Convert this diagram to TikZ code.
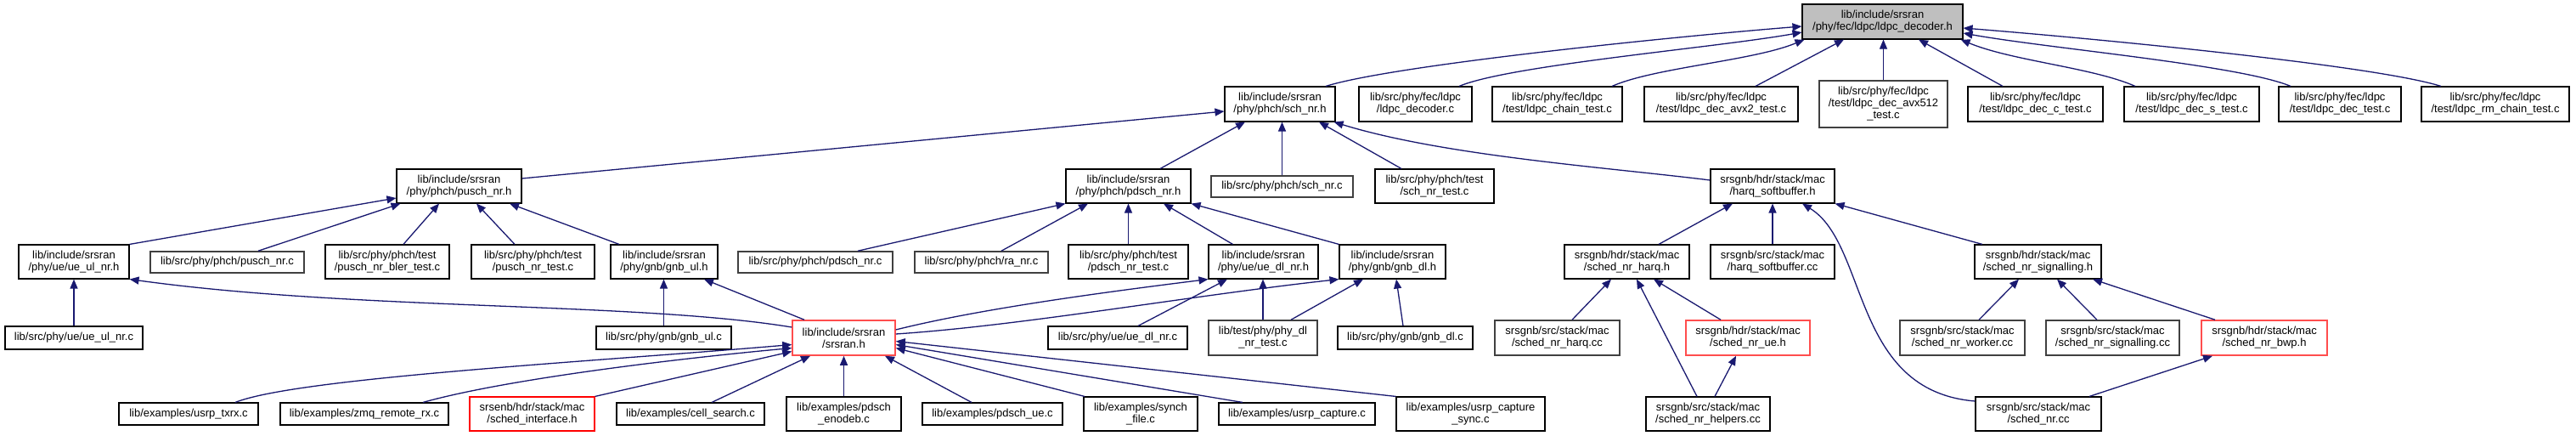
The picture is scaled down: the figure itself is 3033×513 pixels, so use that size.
\documentclass[tikz,border=0pt]{standalone}
\usepackage{fontspec}
\setmainfont{Liberation Sans}
\usetikzlibrary{arrows.meta}
\definecolor{edgeblue}{HTML}{191970}
\definecolor{boxgray}{HTML}{404040}
\definecolor{fillgray}{HTML}{BFBFBF}
\definecolor{boxred}{HTML}{FF4D4D}
\newcommand{\nodefont}{\fontsize{13}{14}\selectfont}
\begin{document}
\begin{tikzpicture}[x=1pt,y=-1pt,
  fbox/.style={draw=black, line width=1.1pt, fill=white, inner sep=0pt, align=center, font=\nodefont},
  gbox/.style={fbox, draw=boxgray, line width=1.5pt},
  rbox/.style={fbox, draw=boxred, line width=1.5pt},
  topbox/.style={fbox, fill=fillgray},
  dep/.style={draw=edgeblue, line width=1.3pt, -{Triangle[length=11pt,width=9pt]}},
]
\fill[white] (0,0) rectangle (3033,513);
\useasboundingbox (0,0) rectangle (3033,513);

% row 1
\node[topbox, minimum width=189pt, minimum height=41pt] (dec) at (2216.5,25.5) {lib/include/srsran\\/phy/fec/ldpc/ldpc\_decoder.h};
% row 2
\node[fbox, minimum width=130pt, minimum height=41pt] (schh) at (1507,122.5) {lib/include/srsran\\/phy/phch/sch\_nr.h};
\node[fbox, minimum width=133pt, minimum height=41pt] (ldc) at (1666.5,122.5) {lib/src/phy/fec/ldpc\\/ldpc\_decoder.c};
\node[fbox, minimum width=153pt, minimum height=41pt] (chain) at (1833.5,122.5) {lib/src/phy/fec/ldpc\\/test/ldpc\_chain\_test.c};
\node[fbox, minimum width=181pt, minimum height=41pt] (avx2) at (2026.5,122.5) {lib/src/phy/fec/ldpc\\/test/ldpc\_dec\_avx2\_test.c};
\node[gbox, minimum width=151pt, minimum height=55pt] (avx512) at (2217.5,122.5) {lib/src/phy/fec/ldpc\\/test/ldpc\_dec\_avx512\\\_test.c};
\node[fbox, minimum width=159pt, minimum height=41pt] (decc) at (2396.5,122.5) {lib/src/phy/fec/ldpc\\/test/ldpc\_dec\_c\_test.c};
\node[fbox, minimum width=159pt, minimum height=41pt] (decs) at (2580.5,122.5) {lib/src/phy/fec/ldpc\\/test/ldpc\_dec\_s\_test.c};
\node[fbox, minimum width=144pt, minimum height=41pt] (dect) at (2755,122.5) {lib/src/phy/fec/ldpc\\/test/ldpc\_dec\_test.c};
\node[fbox, minimum width=174pt, minimum height=41pt] (rm) at (2938,122.5) {lib/src/phy/fec/ldpc\\/test/ldpc\_rm\_chain\_test.c};
% row 3
\node[fbox, minimum width=147pt, minimum height=40pt] (pusch) at (540.5,219) {lib/include/srsran\\/phy/phch/pusch\_nr.h};
\node[fbox, minimum width=147pt, minimum height=40pt] (pdsch) at (1328.5,219) {lib/include/srsran\\/phy/phch/pdsch\_nr.h};
\node[gbox, minimum width=167pt, minimum height=25pt] (schc) at (1509.5,219.5) {lib/src/phy/phch/sch\_nr.c};
\node[fbox, minimum width=140pt, minimum height=40pt] (schtest) at (1689,219) {lib/src/phy/phch/test\\/sch\_nr\_test.c};
\node[fbox, minimum width=146pt, minimum height=40pt] (harqsb) at (2087,219) {srsgnb/hdr/stack/mac\\/harq\_softbuffer.h};
% row 4
\node[fbox, minimum width=130pt, minimum height=40pt] (ueul) at (87,308) {lib/include/srsran\\/phy/ue/ue\_ul\_nr.h};
\node[gbox, minimum width=181pt, minimum height=25pt] (puschc) at (267.5,308.5) {lib/src/phy/phch/pusch\_nr.c};
\node[fbox, minimum width=146pt, minimum height=40pt] (bler) at (456,308) {lib/src/phy/phch/test\\/pusch\_nr\_bler\_test.c};
\node[fbox, minimum width=145pt, minimum height=40pt] (puschtest) at (627.5,308) {lib/src/phy/phch/test\\/pusch\_nr\_test.c};
\node[fbox, minimum width=126pt, minimum height=40pt] (gnbul) at (782,308) {lib/include/srsran\\/phy/gnb/gnb\_ul.h};
\node[gbox, minimum width=182pt, minimum height=25pt] (pdschc) at (960,308.5) {lib/src/phy/phch/pdsch\_nr.c};
\node[gbox, minimum width=157pt, minimum height=25pt] (ranr) at (1155.5,308.5) {lib/src/phy/phch/ra\_nr.c};
\node[fbox, minimum width=141pt, minimum height=40pt] (pdschtest) at (1328.5,308) {lib/src/phy/phch/test\\/pdsch\_nr\_test.c};
\node[fbox, minimum width=129pt, minimum height=40pt] (uedl) at (1487.5,308) {lib/include/srsran\\/phy/ue/ue\_dl\_nr.h};
\node[fbox, minimum width=125pt, minimum height=40pt] (gnbdl) at (1639.5,308) {lib/include/srsran\\/phy/gnb/gnb\_dl.h};
\node[fbox, minimum width=147pt, minimum height=40pt] (harqh) at (1915.5,308) {srsgnb/hdr/stack/mac\\/sched\_nr\_harq.h};
\node[fbox, minimum width=146pt, minimum height=40pt] (harqcc) at (2087,308) {srsgnb/src/stack/mac\\/harq\_softbuffer.cc};
\node[fbox, minimum width=149pt, minimum height=40pt] (sigh) at (2399.5,308) {srsgnb/hdr/stack/mac\\/sched\_nr\_signalling.h};
% row 5
\node[fbox, minimum width=162pt, minimum height=27pt] (ueulc) at (87,397.5) {lib/src/phy/ue/ue\_ul\_nr.c};
\node[fbox, minimum width=159pt, minimum height=27pt] (gnbulc) at (781.5,397.5) {lib/src/phy/gnb/gnb\_ul.c};
\node[rbox, minimum width=121pt, minimum height=41pt] (srsran) at (993.5,397.5) {lib/include/srsran\\/srsran.h};
\node[fbox, minimum width=164pt, minimum height=27pt] (uedlc) at (1316,397.5) {lib/src/phy/ue/ue\_dl\_nr.c};
\node[gbox, minimum width=128pt, minimum height=41pt] (phydl) at (1487,397.5) {lib/test/phy/phy\_dl\\\_nr\_test.c};
\node[fbox, minimum width=159pt, minimum height=27pt] (gnbdlc) at (1654.5,397.5) {lib/src/phy/gnb/gnb\_dl.c};
\node[gbox, minimum width=147pt, minimum height=41pt] (harqhcc) at (1833.5,397.5) {srsgnb/src/stack/mac\\/sched\_nr\_harq.cc};
\node[rbox, minimum width=146pt, minimum height=41pt] (nrue) at (2058,397.5) {srsgnb/hdr/stack/mac\\/sched\_nr\_ue.h};
\node[gbox, minimum width=147pt, minimum height=41pt] (worker) at (2310.5,397.5) {srsgnb/src/stack/mac\\/sched\_nr\_worker.cc};
\node[gbox, minimum width=157pt, minimum height=41pt] (sigcc) at (2487.5,397.5) {srsgnb/src/stack/mac\\/sched\_nr\_signalling.cc};
\node[rbox, minimum width=148pt, minimum height=41pt] (bwp) at (2666,397.5) {srsgnb/hdr/stack/mac\\/sched\_nr\_bwp.h};
% row 6
\node[fbox, minimum width=164pt, minimum height=26pt] (txrx) at (222,487) {lib/examples/usrp\_txrx.c};
\node[fbox, minimum width=198pt, minimum height=26pt] (zmq) at (429,487) {lib/examples/zmq\_remote\_rx.c};
\node[rbox, draw=red, line width=1.1pt, minimum width=147pt, minimum height=40pt] (schedif) at (626.5,487) {srsenb/hdr/stack/mac\\/sched\_interface.h};
\node[fbox, minimum width=174pt, minimum height=26pt] (cell) at (813,487) {lib/examples/cell\_search.c};
\node[fbox, minimum width=135pt, minimum height=40pt] (enodeb) at (993.5,487) {lib/examples/pdsch\\\_enodeb.c};
\node[fbox, minimum width=165pt, minimum height=26pt] (pdschue) at (1168.5,487) {lib/examples/pdsch\_ue.c};
\node[fbox, minimum width=134pt, minimum height=40pt] (synch) at (1343,487) {lib/examples/synch\\\_file.c};
\node[fbox, minimum width=184pt, minimum height=26pt] (usrpcap) at (1527,487) {lib/examples/usrp\_capture.c};
\node[fbox, minimum width=175pt, minimum height=40pt] (capsync) at (1731.5,487) {lib/examples/usrp\_capture\\\_sync.c};
\node[fbox, minimum width=146pt, minimum height=40pt] (helpers) at (2011,487) {srsgnb/src/stack/mac\\/sched\_nr\_helpers.cc};
\node[fbox, minimum width=148pt, minimum height=40pt] (schednr) at (2400,487) {srsgnb/src/stack/mac\\/sched\_nr.cc};

% edges to ldpc_decoder.h
\draw[dep] ([xshift=54pt]schh.north) .. controls +(80,-25) and +(-150,12) .. ([yshift=-5.5pt]dec.west);
\draw[dep] ([xshift=51.5pt]ldc.north) .. controls +(60,-25) and +(-100,18) .. ([yshift=-12.5pt]dec.west);
\draw[dep] ([xshift=64.5pt]chain.north) .. controls +(50,-22) and +(-60,25) .. ([xshift=3pt]dec.south west);
\draw[dep] ([xshift=40.5pt]avx2.north) -- ([xshift=-45.5pt]dec.south);
\draw[dep, line width=0.8pt] (avx512.north) -- (avx512.north |- dec.south);
\draw[dep] ([xshift=-38.5pt]decc.north) -- ([xshift=42.5pt]dec.south);
\draw[dep] ([xshift=-66.5pt]decs.north) .. controls +(-50,-22) and +(60,25) .. ([xshift=-3pt]dec.south east);
\draw[dep] ([xshift=-58pt]dect.north) .. controls +(-60,-25) and +(100,18) .. ([yshift=-13.5pt]dec.east);
\draw[dep] ([xshift=-64pt]rm.north) .. controls +(-80,-25) and +(150,12) .. ([yshift=-7.5pt]dec.east);
% edges to sch_nr.h
\draw[dep] ([yshift=9pt]pusch.east) -- ([yshift=-8.5pt]schh.west);
\draw[dep] ([xshift=37.5pt]pdsch.north) -- ([xshift=-41pt]schh.south);
\draw[dep] (schc.north) -- (schc.north |- schh.south);
\draw[dep] ([xshift=-39pt]schtest.north) -- ([xshift=46pt]schh.south);
\draw[dep] ([yshift=7pt]harqsb.west) .. controls +(-120,-15) and +(130,40) .. ([xshift=-2pt]schh.south east);
% edges to pusch_nr.h
\draw[dep] (ueul.north east) -- ([yshift=-14pt]pusch.west);
\draw[dep] ([xshift=36.5pt]puschc.north) -- ([xshift=5pt]pusch.south west);
\draw[dep] ([xshift=19pt]bler.north) -- ([xshift=-23.5pt]pusch.south);
\draw[dep] ([xshift=-21.5pt]puschtest.north) -- ([xshift=20.5pt]pusch.south);
\draw[dep] ([xshift=-53pt]gnbul.north) -- ([xshift=59.5pt]pusch.south);
% edges to pdsch_nr.h
\draw[dep] ([xshift=50pt]pdschc.north) -- (pdsch.south west);
\draw[dep] ([xshift=23.5pt]ranr.north) -- ([xshift=-47.5pt]pdsch.south);
\draw[dep] (pdschtest.north) -- (pdschtest.north |- pdsch.south);
\draw[dep] ([xshift=-36pt]uedl.north) -- ([xshift=41.5pt]pdsch.south);
\draw[dep] (gnbdl.north west) -- (pdsch.south east);
% edges to harq_softbuffer.h
\draw[dep] ([xshift=37.5pt]harqh.north) -- ([xshift=-47pt]harqsb.south);
\draw[dep] (harqcc.north) -- (harqcc.north |- harqsb.south);
\draw[dep] ([yshift=15pt]schednr.west) .. controls +(-146,-12) and +(78,48) .. ([xshift=35pt]harqsb.south);
\draw[dep] ([xshift=-65.5pt]sigh.north) -- (harqsb.south east);
% row 5 to row 4
\draw[dep] (ueulc.north) -- (ueulc.north |- ueul.south);
\draw[dep] ([yshift=12.5pt]srsran.west) .. controls +(-183,-30) and +(268,37) .. (ueul.south east);
\draw[dep] (gnbulc.north) -- (gnbulc.north |- gnbul.south);
\draw[dep] ([xshift=-46.5pt]srsran.north) -- ([xshift=47pt]gnbul.south);
\draw[dep] ([yshift=9.5pt]srsran.east) .. controls +(100,-25) and +(-120,15) .. (uedl.south west);
\draw[dep] ([yshift=4.5pt]srsran.east) .. controls +(150,-10) and +(-180,20) .. (gnbdl.south west);
\draw[dep] ([xshift=24pt]uedlc.north) -- ([xshift=-42.5pt]uedl.south);
\draw[dep] (phydl.north) -- (phydl.north |- uedl.south);
\draw[dep] ([xshift=33pt]phydl.north) -- ([xshift=-34.5pt]gnbdl.south);
\draw[dep] ([xshift=-2.5pt]gnbdlc.north) -- ([xshift=4.5pt]gnbdl.south);
\draw[dep] ([xshift=17.5pt]harqhcc.north) -- ([xshift=-18.5pt]harqh.south);
\draw[dep] ([xshift=-13pt]helpers.north) -- ([xshift=11.5pt]harqh.south);
\draw[dep] ([xshift=-32pt]nrue.north) -- ([xshift=31.5pt]harqh.south);
\draw[dep] ([xshift=8pt]helpers.north) -- ([xshift=-14pt]nrue.south);
\draw[dep] ([xshift=19.5pt]worker.north) -- ([xshift=-22.5pt]sigh.south);
\draw[dep] ([xshift=-18.5pt]sigcc.north) -- ([xshift=22.5pt]sigh.south);
\draw[dep] ([xshift=-58pt]bwp.north) -- ([xshift=64.5pt]sigh.south);
\draw[dep] ([xshift=60pt]schednr.north) -- ([xshift=-61pt]bwp.south);
% bottom row to srsran.h
\draw[dep] ([xshift=55pt]txrx.north) .. controls +(73,-29) and +(-233,20) .. ([yshift=-8pt]srsran.west);
\draw[dep] ([xshift=69pt]zmq.north) .. controls +(100,-28) and +(-130,12) .. ([yshift=-12pt]srsran.west);
\draw[dep] (schedif.north east) -- ([yshift=-16pt]srsran.west);
\draw[dep] ([xshift=25pt]cell.north) -- ([xshift=-39.5pt]srsran.south);
\draw[dep] (enodeb.north) -- (enodeb.north |- srsran.south);
\draw[dep] ([xshift=-24.5pt]pdschue.north) -- ([xshift=48.5pt]srsran.south);
\draw[dep] ([xshift=-66pt]synch.north) -- ([yshift=-12pt]srsran.east);
\draw[dep] ([xshift=-64pt]usrpcap.north) -- ([yshift=-8pt]srsran.east);
\draw[dep] (capsync.north west) -- ([yshift=-4pt]srsran.east);
\end{tikzpicture}
\end{document}
